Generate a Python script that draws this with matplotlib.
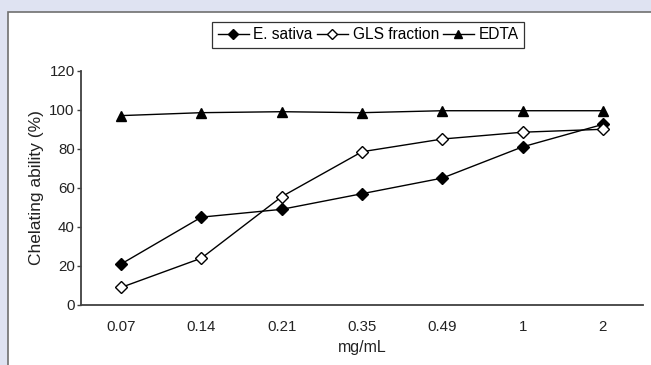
import matplotlib.pyplot as plt
from matplotlib.patches import Rectangle

plt.rcParams['font.family'] = ['Liberation Sans', 'DejaVu Sans']

# Дані
doses = ["0.07", "0.14", "0.21", "0.35", "0.49", "1", "2"]
e_sativa = [21, 45, 49, 57, 65, 81, 92.5]
gls_fraction = [9, 24, 55.5, 78.5, 85, 88.5, 90]
edta = [97, 98.5, 99, 98.5, 99.5, 99.5, 99.5]

W, H = 651, 365
fig = plt.figure(figsize=(W / 100, H / 100), dpi=100)
fig.patch.set_facecolor("#dfe3f2")

# Біла панель з рамкою
panel = Rectangle((8 / W, -0.05), 1.1, (H - 12) / H + 0.05,
                  transform=fig.transFigure, facecolor="white",
                  edgecolor="#707070", linewidth=1.2, zorder=-10)
fig.patches.append(panel)

ax = fig.add_axes([81 / W, (H - 305) / H, (643 - 81) / W, (305 - 70.7) / H])
ax.set_facecolor("none")
ax.set_zorder(5)

x = list(range(len(doses)))
ax.plot(x, e_sativa, color="black", lw=1, marker="D", ms=6.5,
        mfc="black", mec="black", label="E. sativa")
ax.plot(x, gls_fraction, color="black", lw=1, marker="D", ms=6.5,
        mfc="white", mec="black", label="GLS fraction")
ax.plot(x, edta, color="black", lw=1, marker="^", ms=7.5,
        mfc="black", mec="black", label="EDTA")

ax.set_xlim(-0.5, 6.5)
ax.set_ylim(0, 120)
ax.set_yticks(range(0, 121, 20))
ax.set_xticks(x, doses)

for side in ["top", "right"]:
    ax.spines[side].set_visible(False)
for side in ["left", "bottom"]:
    ax.spines[side].set_color("#404040")
    ax.spines[side].set_linewidth(1.3)

fs = 10.8
ax.tick_params(axis="x", length=0, pad=11, labelsize=fs, colors="#222222")
ax.tick_params(axis="y", length=3, width=1, pad=1.5, labelsize=fs,
               colors="#222222", direction="out")
ax.tick_params(axis="y", color="#404040")

ax.set_xlabel("mg/mL", fontsize=11.5, labelpad=4, color="#222222")
ax.set_ylabel("Chelating ability (%)", fontsize=12.5, labelpad=4,
              color="#222222")

leg = ax.legend(loc="upper center", bbox_to_anchor=(0.511, 1.208), ncol=3,
                frameon=True, fancybox=False, fontsize=11.2, markerscale=0.8,
                handlelength=2.0, handletextpad=0.3, columnspacing=0.25,
                borderpad=0.35, borderaxespad=0)
leg.get_frame().set_edgecolor("black")
leg.get_frame().set_linewidth(0.9)

fig.savefig("out.png", dpi=100, facecolor=fig.get_facecolor())
